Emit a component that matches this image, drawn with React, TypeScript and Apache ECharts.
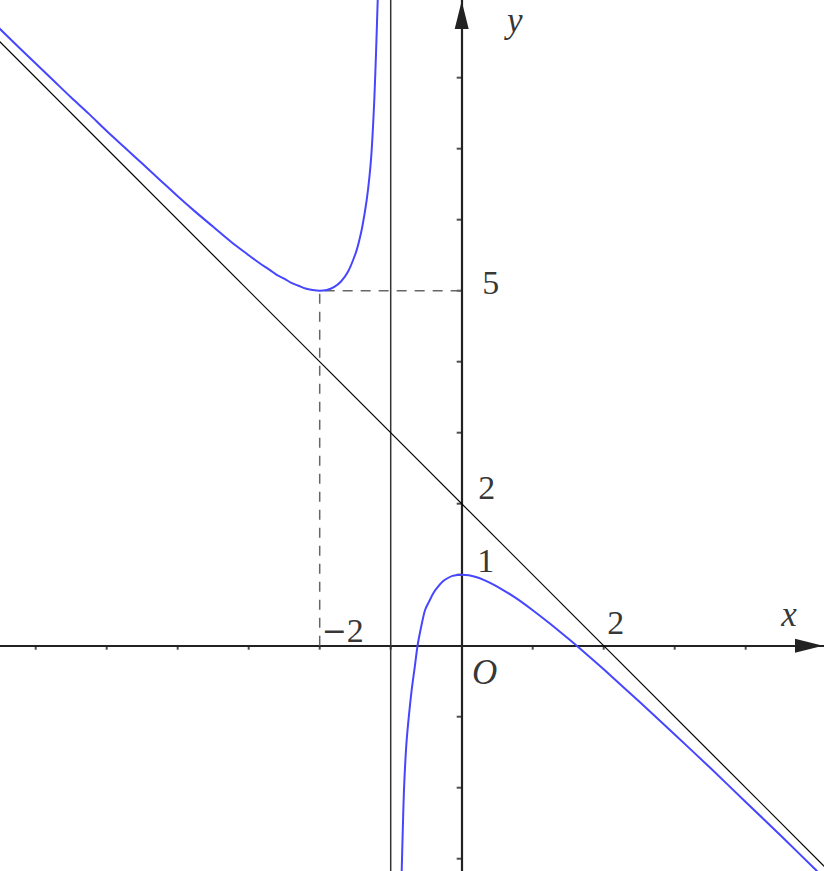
import * as echarts from 'echarts'
import React, { useEffect, useRef } from 'react'

const curveColor = '#4646ff'
const axisColor = '#222222'
const fontFamily = '"Liberation Serif", "DejaVu Serif", serif'

// visible window of the plane (one unit is about 71px)
const xRange = [-6.503, 5.103]
const yRange = [-3.173, 9.094]

const xTicks = [-6, -5, -4, -3, -2, -1, 1, 2, 3, 4]
const yTicks = [-3, -2, -1, 1, 2, 3, 4, 5, 6, 7, 8]

const xTickLabels = [-2, 2]
const yTickLabels = [1, 2, 5]

// branch left of x = -1
const leftBranch = [
  [-6.6, 8.78], [-6.25, 8.44], [-6, 8.2], [-5.75, 7.96], [-5.5, 7.72],
  [-5.25, 7.49], [-5, 7.25], [-4.75, 7.02], [-4.5, 6.79], [-4.25, 6.56],
  [-4, 6.33], [-3.75, 6.11], [-3.5, 5.9], [-3.25, 5.69], [-3, 5.5],
  [-2.85, 5.39], [-2.7, 5.29], [-2.6, 5.22], [-2.5, 5.17], [-2.4, 5.11],
  [-2.3, 5.07], [-2.2, 5.03], [-2.1, 5.01], [-2, 5], [-1.9, 5.01],
  [-1.8, 5.05], [-1.7, 5.13], [-1.6, 5.27], [-1.5, 5.51], [-1.45, 5.68],
  [-1.4, 5.9], [-1.338, 6.28], [-1.3, 6.6], [-1.268, 6.98],
  [-1.231, 7.69], [-1.205, 8.4], [-1.183, 9.09], [-1.17, 9.5],
]

// branch right of x = -1
const rightBranch = [
  [-0.852, -3.45], [-0.845, -3.17], [-0.83, -2.6], [-0.813, -2.03],
  [-0.795, -1.65], [-0.775, -1.33], [-0.74, -0.95], [-0.704, -0.62],
  [-0.66, -0.29], [-0.62, 0.01], [-0.57, 0.27], [-0.517, 0.5],
  [-0.46, 0.62], [-0.4, 0.74], [-0.33, 0.835], [-0.26, 0.91],
  [-0.2, 0.95], [-0.13, 0.984], [-0.06, 0.997], [0, 1], [0.1, 0.991],
  [0.2, 0.967], [0.3, 0.931], [0.4, 0.886], [0.5, 0.833], [0.75, 0.68],
  [1, 0.5], [1.25, 0.306], [1.5, 0.1], [1.75, -0.114], [2, -0.333],
  [2.5, -0.786], [3, -1.25], [3.5, -1.72], [4, -2.2], [4.5, -2.68],
  [5, -3.17], [5.2, -3.36],
]

const verticalAsymptote = [[-1, -4], [-1, 10]]
const slantAsymptote = [[-7, 9], [6, -4]]
const minimumGuide = [[-2, 0], [-2, 5], [0, 5]]

// where each label sits relative to its anchor point, in px
const labelOffset: Record<string, number[]> = {
  'x:-2': [23, -15],
  'x:2': [12, -23],
  'y:1': [24, -14],
  'y:2': [25, -16],
  'y:5': [29, -8],
}

// wide minus sign, as in TeX
const fmt = (v: number) => (v < 0 ? '{m|\u2212}' + Math.abs(v) : String(v))

function textItem(value: number[], text: string, offset: number[], italic = false) {
  const fontSize = italic ? 35 : 34
  return {
    value,
    label: {
      show: true,
      position: 'inside',
      formatter: text,
      offset,
      align: 'center',
      verticalAlign: 'middle',
      color: '#000',
      fontSize,
      fontFamily,
      fontStyle: italic ? 'italic' : 'normal',
      rich: {
        m: { fontFamily: '"DejaVu Sans", sans-serif', fontSize: 30, color: '#000' },
      },
    },
  }
}

function axisWithArrow(range: number[]) {
  return {
    type: 'value',
    min: range[0],
    max: range[1],
    axisLine: {
      show: true,
      onZero: true,
      symbol: ['none', 'triangle'],
      symbolSize: [14, 28],
      symbolOffset: [0, -15],
      lineStyle: { color: axisColor, width: 2.2 },
    },
    axisTick: { show: false },
    axisLabel: { show: false },
    splitLine: { show: false },
  }
}

function branch(data: number[][]) {
  return {
    type: 'line',
    data,
    showSymbol: false,
    smooth: 0.3,
    lineStyle: { color: curveColor, width: 2 },
    silent: true,
  }
}

export default function App() {
  const chartRef = useRef<HTMLDivElement>(null)

  useEffect(() => {
    const chart = echarts.init(chartRef.current, null, { renderer: 'svg' })

    const labels = [
      ...xTickLabels.map((v) => textItem([v, 0], fmt(v), labelOffset['x:' + v])),
      ...yTickLabels.map((v) => textItem([0, v], fmt(v), labelOffset['y:' + v])),
      textItem([0, 0], 'O', [23, 27], true),
      textItem([xRange[1], 0], 'x', [-35, -31], true),
      textItem([0, yRange[1]], 'y', [53, 20], true),
    ]

    const option = {
      animation: false,
      grid: { left: 0, right: 0, top: 0, bottom: 0, containLabel: false },
      xAxis: axisWithArrow(xRange),
      yAxis: axisWithArrow(yRange),
      series: [
        {
          type: 'line',
          data: verticalAsymptote,
          showSymbol: false,
          lineStyle: { color: '#333', width: 1.5 },
          silent: true,
        },
        {
          type: 'line',
          data: slantAsymptote,
          showSymbol: false,
          lineStyle: { color: '#000', width: 1.2 },
          silent: true,
        },
        {
          type: 'line',
          data: minimumGuide,
          showSymbol: false,
          lineStyle: { color: '#666', width: 1.5, type: [10, 8] },
          silent: true,
        },
        branch(leftBranch),
        branch(rightBranch),
        {
          type: 'scatter',
          data: xTicks.map((v) => [v, 0]),
          symbol: 'rect',
          symbolSize: [2, 4],
          symbolOffset: [0, 2],
          itemStyle: { color: axisColor },
          silent: true,
        },
        {
          type: 'scatter',
          data: yTicks.map((v) => [0, v]),
          symbol: 'rect',
          symbolSize: [5, 2],
          symbolOffset: [-2.5, 0],
          itemStyle: { color: axisColor },
          silent: true,
        },
        {
          type: 'scatter',
          data: labels,
          symbolSize: 0,
          silent: true,
        },
      ],
    }

    chart.setOption(option)

    return () => {
      chart.dispose()
    }
  }, [])

  return (
    <div
      ref={chartRef}
      style={{ position: 'fixed', left: 0, top: 0, width: '824px', height: '871px', background: '#fff' }}
    />
  )
}
